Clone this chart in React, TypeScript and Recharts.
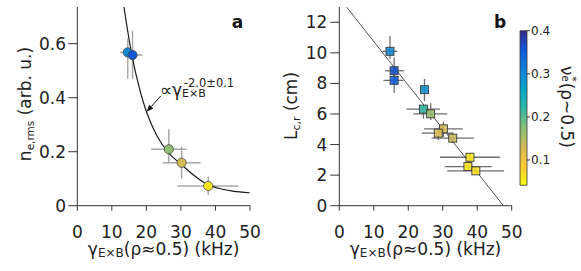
import React from 'react';
import {
  ComposedChart,
  Scatter,
  XAxis,
  YAxis,
  ErrorBar,
  ReferenceLine,
  ReferenceArea,
  Label,
} from 'recharts';

const FONT = "'DejaVu Sans', sans-serif";
const INK = '#222';
const AXIS = '#333';

// ---------- colour map (parula, reversed on the colour bar) ----------
const parulaStops = ['#352a87', '#0f5cdd', '#1481d6', '#06a4ca', '#2eb7a4', '#87bf77', '#d1bb59', '#fec832', '#f9fb0e'];
const nuMin = 0.0413;
const nuMax = 0.4;
const cbTicks = [0.1, 0.2, 0.3, 0.4];

// ---------- panel a ----------
const aGamma = [14.6, 16.0, 26.5, 30.2, 37.9];
const aDens = [0.568, 0.558, 0.209, 0.159, 0.073];
const aGammaLow = [12.4, 13.5, 21.4, 24.7, 29.0];
const aGammaHigh = [16.8, 18.8, 31.6, 35.7, 46.6];
const aDensLow = [0.47, 0.47, 0.157, 0.101, 0.04];
const aDensHigh = [0.62, 0.648, 0.283, 0.218, 0.107];
const aNu = [0.3, 0.36, 0.17, 0.127, 0.06];
const aXTicks = [0, 10, 20, 30, 40, 50];
const aYTicks = [0, 0.2, 0.4, 0.6];

// fitted curve ∝ γ^-2
const fitAX = [13.5, 15.7, 18.1, 20.1, 23.0, 26.5, 30.2, 34.0, 37.9, 41.7, 45.0, 49.9];
const fitAY = [0.736, 0.564, 0.429, 0.345, 0.26, 0.195, 0.152, 0.11, 0.077, 0.062, 0.054, 0.048];

// annotation arrow (tail -> tip), data coordinates
const arrowA = [
  { x: 24.2, y: 0.407 },
  { x: 20.06, y: 0.348 },
];

// ---------- panel b ----------
const bGamma = [14.7, 15.9, 15.9, 24.7, 24.4, 26.5, 30.2, 28.7, 32.9, 37.9, 37.3, 39.6];
const bLc = [10.1, 8.83, 8.2, 7.59, 6.32, 6.01, 5.03, 4.75, 4.42, 3.17, 2.56, 2.28];
const bGammaLow = [12.5, 13.3, 12.8, 24.0, 19.5, 21.5, 24.6, 23.9, 26.8, 29.2, 30.7, 31.3];
const bGammaHigh = [16.8, 18.8, 18.6, 25.4, 29.2, 31.3, 35.8, 32.8, 39.1, 46.6, 44.2, 47.8];
const bLcLow = [9.6, 8.0, 7.37, 6.85, 5.7, 5.6, 4.5, 4.3, 4.1, 2.9, 2.3, 2.05];
const bLcHigh = [11.1, 9.7, 9.0, 8.3, 6.6, 6.7, 5.5, 5.1, 4.8, 3.45, 2.8, 2.5];
const bNu = [0.303, 0.364, 0.35, 0.29, 0.22, 0.163, 0.13, 0.124, 0.135, 0.06, 0.063, 0.066];
const bXTicks = [0, 10, 20, 30, 40, 50];
const bYTicks = [0, 2, 4, 6, 8, 10, 12];
const fitBX = [2.1, 47.6];
const fitBY = [13, 0];

// ---------- helpers ----------
function hexToRgb(h: string) {
  const n = parseInt(h.slice(1), 16);
  return [(n >> 16) & 255, (n >> 8) & 255, n & 255];
}
function parula(t: number) {
  const tt = Math.max(0, Math.min(1, t));
  const n = parulaStops.length - 1;
  const i = Math.min(n - 1, Math.floor(tt * n));
  const f = tt * n - i;
  const a = hexToRgb(parulaStops[i]);
  const b = hexToRgb(parulaStops[i + 1]);
  const c = a.map((v, k) => Math.round(v + (b[k] - v) * f));
  return `rgb(${c[0]},${c[1]},${c[2]})`;
}
function nuColor(nu: number) {
  return parula((nuMax - nu) / (nuMax - nuMin));
}

const aPoints = aGamma.map((g, i) => ({
  x: g,
  y: aDens[i],
  ex: [g - aGammaLow[i], aGammaHigh[i] - g],
  ey: [aDens[i] - aDensLow[i], aDensHigh[i] - aDens[i]],
  nu: aNu[i],
}));
const aCurve = fitAX.map((x, i) => ({ x, y: fitAY[i] }));

const bPoints = bGamma.map((g, i) => ({
  x: g,
  y: bLc[i],
  ex: [g - bGammaLow[i], bGammaHigh[i] - g],
  ey: [bLc[i] - bLcLow[i], bLcHigh[i] - bLc[i]],
  nu: bNu[i],
}));
const bLine = fitBX.map((x, i) => ({ x, y: fitBY[i] }));
const cbData = [
  { x: 0, y: nuMin },
  { x: 1, y: nuMax },
];

const tickStyle = { fontSize: 17, fill: INK, fontFamily: FONT };

const Empty = () => <g />;

const CircleShape = (p: any) => (
  <circle cx={p.cx} cy={p.cy} r={4.6} fill={nuColor(p.payload.nu)} stroke="#4a4a4a" strokeWidth={0.8} />
);
const SquareShape = (p: any) => (
  <rect
    x={p.cx - 4}
    y={p.cy - 4}
    width={8}
    height={8}
    fill={nuColor(p.payload.nu)}
    fillOpacity={0.88}
    stroke="#3a3a3a"
    strokeWidth={0.9}
  />
);

const ArrowAnnot = (p: any) => {
  const { x1, y1, x2, y2 } = p;
  const ang = Math.atan2(y2 - y1, x2 - x1);
  const L = 7;
  const W = 2.8;
  const bx = x2 - L * Math.cos(ang);
  const by = y2 - L * Math.sin(ang);
  const px = -Math.sin(ang);
  const py = Math.cos(ang);
  return (
    <g>
      <line x1={x1} y1={y1} x2={bx} y2={by} stroke="#111" strokeWidth={1} />
      <polygon points={`${x2},${y2} ${bx + W * px},${by + W * py} ${bx - W * px},${by - W * py}`} fill="#111" />
      <text x={x1 - 1} y={y1} fontFamily={FONT} fontSize={17} fill={INK}>
        ∝γ
        <tspan fontSize={11} dy={1.5}>E×B</tspan>
        <tspan fontSize={11.5} dx={-22} dy={-10}>-2.0±0.1</tspan>
      </text>
    </g>
  );
};

const xLabelContent = (cx: number) => () => (
  <text x={cx} y={255} textAnchor="middle" fontFamily={FONT} fontSize={17} fill={INK}>
    γ<tspan fontSize={12} dy={2}>E×B</tspan>
    <tspan dy={-2}>{'(ρ≈0.5) (kHz)'}</tspan>
  </text>
);

const yLabelA = () => (
  <g>
    <text x={30.8} y={104} transform="rotate(-90 30.8 104)" textAnchor="middle" fontFamily={FONT} fontSize={17} fill={INK}>
      n<tspan fontSize={10.5} dy={3}>e,rms</tspan>
      <tspan dy={-3}>{' (arb. u.)'}</tspan>
    </text>
    <text x={237.5} y={28.3} textAnchor="middle" fontFamily={FONT} fontSize={17} fontWeight="bold" fill="#111">
      a
    </text>
  </g>
);

const yLabelB = () => (
  <g>
    <text x={296.5} y={106} transform="rotate(-90 296.5 106)" textAnchor="middle" fontFamily={FONT} fontSize={17} fill={INK}>
      L<tspan fontSize={11} dy={3}>c,r</tspan>
      <tspan dy={-3}>{' (cm)'}</tspan>
    </text>
    <text x={500} y={28} textAnchor="middle" fontFamily={FONT} fontSize={17} fontWeight="bold" fill="#111">
      b
    </text>
  </g>
);

const cbLabel = () => (
  <text x={560.5} y={107} transform="rotate(90 560.5 107)" textAnchor="middle" fontFamily={FONT} fontSize={17} fill={INK}>
    ν<tspan fontSize={10} dy={-1}>e</tspan>
    <tspan fontSize={11} dx={-5.5} dy={-7}>*</tspan>
    <tspan fontSize={17} dx={1} dy={8}>(ρ~0.5)</tspan>
  </text>
);

export default function App() {
  return (
    <div style={{ position: 'absolute', left: 0, top: 0, width: 581, height: 271, background: '#fff' }}>
      {/* panel a */}
      <div style={{ position: 'absolute', left: 0, top: 0 }}>
        <ComposedChart width={581} height={271} margin={{ top: 7, right: 331, bottom: 35.3, left: 17.3 }}>
          <XAxis
            dataKey="x"
            type="number"
            domain={[0, 50]}
            ticks={aXTicks}
            allowDataOverflow
            height={30}
            tick={tickStyle}
            tickSize={5}
            tickMargin={15}
            stroke={AXIS}
          >
            <Label content={xLabelContent(163.6)} />
          </XAxis>
          <YAxis
            dataKey="y"
            type="number"
            domain={[0, 0.736]}
            ticks={aYTicks}
            allowDataOverflow
            width={60}
            tick={tickStyle}
            tickSize={9}
            tickMargin={2.3}
            stroke={AXIS}
            tickFormatter={(v: number) => (v === 0 ? '0' : v.toFixed(1))}
          >
            <Label content={yLabelA} />
          </YAxis>
          <Scatter
            data={aCurve}
            line={{ stroke: '#1a1a1a', strokeWidth: 1.2 }}
            lineType="joint"
            lineJointType="monotoneX"
            shape={Empty}
            isAnimationActive={false}
          />
          <Scatter data={aPoints} shape={CircleShape} isAnimationActive={false}>
            <ErrorBar dataKey="ex" direction="x" width={0} stroke="#a8a8a8" strokeWidth={1.5} isAnimationActive={false} />
            <ErrorBar dataKey="ey" direction="y" width={0} stroke="#a8a8a8" strokeWidth={1.5} isAnimationActive={false} />
          </Scatter>
          <ReferenceLine segment={arrowA} shape={ArrowAnnot} ifOverflow="visible" />
        </ComposedChart>
      </div>

      {/* panel b */}
      <div style={{ position: 'absolute', left: 0, top: 0 }}>
        <ComposedChart width={581} height={271} margin={{ top: 7, right: 69.3, bottom: 35.3, left: 279.3 }}>
          <XAxis
            dataKey="x"
            type="number"
            domain={[0, 50]}
            ticks={bXTicks}
            allowDataOverflow
            height={30}
            tick={tickStyle}
            tickSize={5}
            tickMargin={15}
            stroke={AXIS}
          >
            <Label content={xLabelContent(425.5)} />
          </XAxis>
          <YAxis
            dataKey="y"
            type="number"
            domain={[0, 13]}
            ticks={bYTicks}
            allowDataOverflow
            width={60}
            tick={tickStyle}
            tickSize={9}
            tickMargin={3}
            stroke={AXIS}
          >
            <Label content={yLabelB} />
          </YAxis>
          <Scatter
            data={bLine}
            line={{ stroke: '#555', strokeWidth: 1 }}
            lineType="joint"
            shape={Empty}
            isAnimationActive={false}
          />
          <Scatter data={bPoints} shape={SquareShape} isAnimationActive={false}>
            <ErrorBar dataKey="ex" direction="x" width={0} stroke="#6e6e6e" strokeWidth={1.3} isAnimationActive={false} />
            <ErrorBar dataKey="ey" direction="y" width={0} stroke="#6e6e6e" strokeWidth={1.3} isAnimationActive={false} />
          </Scatter>
        </ComposedChart>
      </div>

      {/* colour bar */}
      <div style={{ position: 'absolute', left: 0, top: 0 }}>
        <ComposedChart width={581} height={271} margin={{ top: 30.7, right: 34, bottom: 85.7, left: 520 }}>
          <defs>
            <linearGradient id="parulaGrad" x1="0" y1="0" x2="0" y2="1">
              {parulaStops.map((c, i) => (
                <stop key={i} offset={i / (parulaStops.length - 1)} stopColor={c} />
              ))}
            </linearGradient>
          </defs>
          <XAxis dataKey="x" type="number" domain={[0, 1]} hide />
          <YAxis
            yAxisId={0}
            orientation="right"
            dataKey="y"
            type="number"
            domain={[nuMin, nuMax]}
            ticks={cbTicks}
            allowDataOverflow
            width={20}
            axisLine={false}
            tick={{ fontSize: 12, fill: INK, fontFamily: FONT }}
            tickSize={3}
            tickMargin={1}
            stroke={AXIS}
            tickFormatter={(v: number) => v.toFixed(1)}
          >
            <Label content={cbLabel} />
          </YAxis>
          <ReferenceArea x1={0} x2={1} y1={nuMin} y2={nuMax} fill="url(#parulaGrad)" fillOpacity={1} stroke="#333" strokeWidth={0.8} />
          <Scatter data={cbData} shape={Empty} isAnimationActive={false} />
        </ComposedChart>
      </div>
    </div>
  );
}
